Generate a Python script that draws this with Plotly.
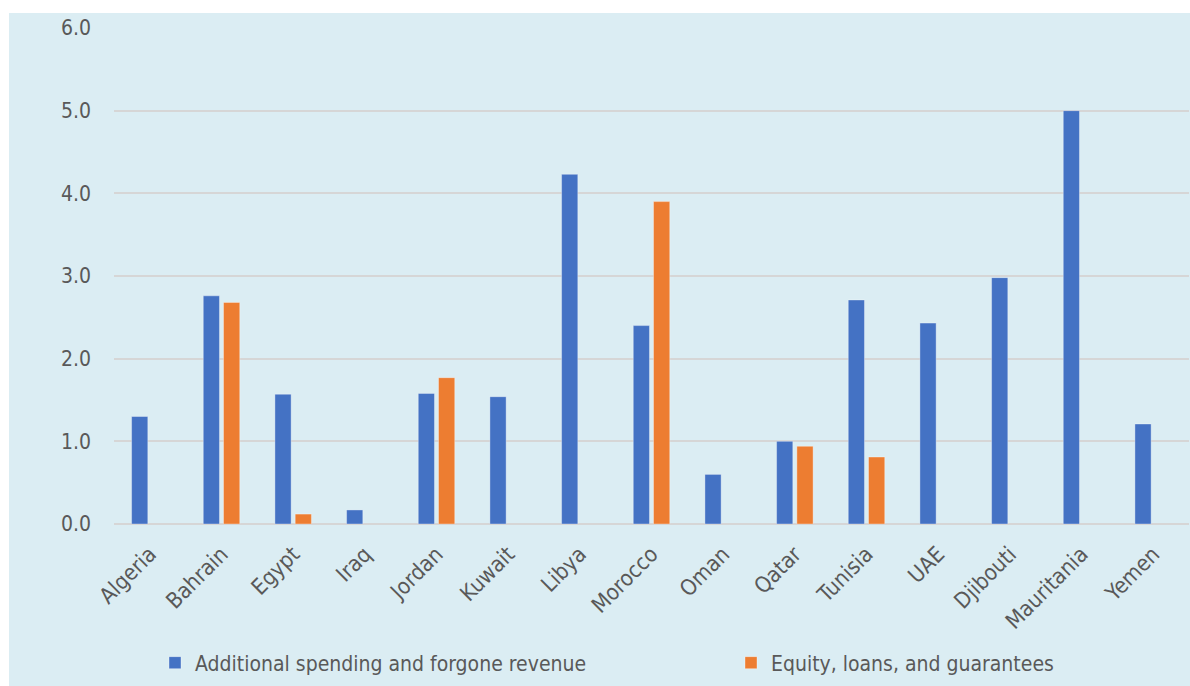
import plotly.graph_objects as go

# Fiscal support measures by country (percent of GDP)
countries = ["Algeria", "Bahrain", "Egypt", "Iraq", "Jordan", "Kuwait", "Libya",
             "Morocco", "Oman", "Qatar", "Tunisia", "UAE", "Djibouti",
             "Mauritania", "Yemen"]
spending = [1.30, 2.76, 1.57, 0.17, 1.58, 1.54, 4.23,
            2.40, 0.60, 1.00, 2.71, 2.43, 2.98, 5.00, 1.21]
equity = [None, 2.68, 0.12, None, 1.77, None, None,
          3.90, None, 0.94, 0.81, None, None, None, None]
y_ticks = [0, 1, 2, 3, 4, 5, 6]

BLUE = "#4472C4"
ORANGE = "#ED7D31"
PANEL = "#DBEDF3"
TEXT = "#595959"
FONT = "DejaVu Sans Condensed, DejaVu Sans"

def font(size):
    return dict(family=FONT, color=TEXT, size=size)

fig = go.Figure()
fig.add_trace(go.Bar(
    x=countries, y=spending, name="Additional spending and forgone revenue",
    marker=dict(color=BLUE, line=dict(color="rgba(255,255,255,0.35)", width=1)),
    legend="legend",
))
fig.add_trace(go.Bar(
    x=countries, y=equity, name="Equity, loans, and guarantees",
    marker=dict(color=ORANGE, line=dict(color="rgba(255,255,255,0.35)", width=1)),
    legend="legend2",
))

W, H = 1190, 686
ml, mr, mt, mb = 114, 1, 28, 162
pw, ph = W - ml - mr, H - mt - mb

def px_x(v):
    return (v - ml) / pw

def px_y(v):
    return (H - mb - v) / ph

legend_style = dict(
    orientation="h", xanchor="left", yanchor="middle",
    y=px_y(663), bgcolor="rgba(0,0,0,0)", font=font(21),
)

fig.update_layout(
    width=W, height=H,
    margin=dict(l=ml, r=mr, t=mt, b=mb, pad=0),
    paper_bgcolor="white",
    plot_bgcolor="rgba(0,0,0,0)",
    barmode="group",
    bargap=0.434,
    bargroupgap=0.2,
    font=font(20),
    showlegend=True,
    legend=dict(x=px_x(155), **legend_style),
    legend2=dict(x=px_x(731), **legend_style),
    shapes=[dict(
        type="rect", xref="paper", yref="paper",
        x0=px_x(9), x1=px_x(W + 5), y0=px_y(13), y1=px_y(H + 5),
        fillcolor=PANEL, line=dict(width=0), layer="below",
    )],
)

fig.update_xaxes(
    tickangle=-45,
    tickfont=font(22),
    showgrid=False, showline=False, zeroline=False,
    ticks="", automargin=False,
    ticklabelstandoff=12,
)
fig.update_yaxes(
    range=[0, 6],
    tickvals=y_ticks,
    tickformat=".1f",
    tickfont=font(21),
    showgrid=True, gridcolor="#D6D6D6", gridwidth=1.5,
    zeroline=True, zerolinecolor="#D6D6D6", zerolinewidth=1.5,
    showline=False, ticks="", automargin=False,
    ticklabelstandoff=22,
)

fig.write_html("out.html")
